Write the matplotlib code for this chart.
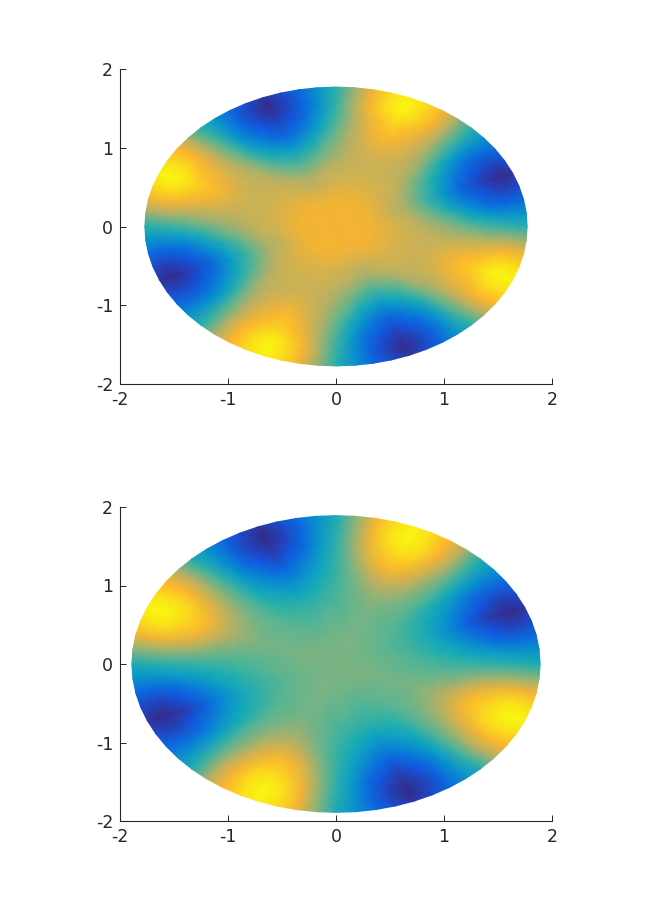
import numpy as np
import matplotlib
matplotlib.use("Agg")
import matplotlib.pyplot as plt
from matplotlib.colors import LinearSegmentedColormap

# colours, low to high
cor_pos = [0.0, 0.05, 0.12, 0.2, 0.33, 0.42, 0.5, 0.62, 0.78, 1.0]
cor_val = ["#352a87", "#30359f", "#1155e0", "#0b70dc", "#0a9fc8", "#1eaeb0", "#5ab592", "#b7b065", "#fdb52e", "#f9f90e"]

# value over one quarter turn, it repeats 4 times around the disc
angulos = [0, 5.625, 11.25, 16.875, 22.5, 28.125, 33.75, 39.375,
           45, 50.625, 56.25, 61.875, 67.5, 73.125, 78.75, 84.375]
raios = [0.0, 0.2, 0.3, 0.4, 0.5, 0.6, 0.7, 0.8, 0.88, 0.94, 1.0]

raio_cima = 1.77
valores_cima = [
    [.77, .77, .77, .77, .77, .77, .77, .77, .77, .77, .77, .77, .77, .77, .77, .77],
    [.75, .75, .74, .74, .74, .74, .74, .75, .75, .75, .75, .75, .75, .75, .75, .75],
    [.69, .68, .67, .66, .66, .66, .67, .68, .69, .70, .70, .70, .70, .70, .70, .70],
    [.65, .64, .62, .60, .59, .60, .62, .64, .66, .67, .67, .67, .67, .67, .67, .66],
    [.60, .57, .53, .49, .47, .49, .52, .57, .62, .64, .65, .66, .67, .66, .65, .63],
    [.56, .50, .42, .36, .32, .36, .42, .49, .58, .63, .67, .70, .72, .70, .66, .61],
    [.51, .40, .30, .22, .18, .22, .30, .40, .53, .62, .70, .76, .80, .76, .68, .60],
    [.47, .33, .20, .13, .09, .13, .20, .32, .49, .62, .74, .82, .88, .82, .72, .59],
    [.45, .30, .17, .09, .04, .09, .17, .30, .47, .62, .78, .90, .97, .90, .76, .60],
    [.44, .30, .17, .08, .01, .08, .17, .30, .45, .61, .78, .91, 1.0, .91, .76, .59],
    [.43, .30, .18, .10, .05, .10, .18, .30, .43, .60, .78, .90, .98, .90, .75, .58],
]

raio_baixo = 1.89
valores_baixo = [
    [.55, .55, .55, .55, .55, .55, .55, .55, .55, .55, .55, .55, .55, .55, .55, .55],
    [.53, .53, .52, .52, .52, .52, .52, .53, .53, .53, .53, .54, .54, .54, .53, .53],
    [.51, .51, .50, .49, .49, .49, .50, .51, .51, .52, .52, .53, .53, .53, .52, .51],
    [.49, .48, .47, .46, .46, .46, .47, .48, .50, .51, .52, .53, .54, .53, .52, .50],
    [.47, .45, .42, .40, .38, .40, .42, .45, .49, .52, .55, .57, .58, .56, .53, .50],
    [.46, .41, .35, .30, .27, .30, .35, .41, .49, .54, .60, .64, .66, .63, .57, .51],
    [.45, .36, .27, .20, .16, .20, .27, .36, .48, .57, .67, .75, .80, .75, .65, .54],
    [.44, .32, .19, .12, .07, .12, .19, .32, .47, .60, .74, .86, .90, .85, .72, .57],
    [.43, .30, .17, .08, .03, .08, .17, .30, .46, .62, .78, .92, .98, .92, .76, .57],
    [.42, .29, .17, .08, .01, .08, .17, .29, .44, .61, .78, .92, 1.0, .92, .76, .57],
    [.41, .29, .18, .10, .05, .10, .18, .29, .42, .60, .78, .90, .97, .90, .75, .56],
]

ticks = [-2, -1, 0, 1, 2]
tick_labels = ["-2", "-1", "0", "1", "2"]

cmap = LinearSegmentedColormap.from_list("disco", list(zip(cor_pos, cor_val)))


def desenha(ax, raio, valores):
    v = np.tile(np.array(valores), (1, 4))
    v = np.hstack([v, v[:, :1]])
    passo = np.r_[angulos, [a + 90 for a in angulos], [a + 180 for a in angulos],
                  [a + 270 for a in angulos], 360]
    theta = np.radians(passo)
    T, R = np.meshgrid(theta, np.array(raios) * raio)
    ax.pcolormesh(R * np.cos(T), R * np.sin(T), v, cmap=cmap, vmin=0, vmax=1,
                  shading="gouraud", rasterized=True)
    ax.set_xlim(-2, 2)
    ax.set_ylim(-2, 2)
    ax.set_xticks(ticks)
    ax.set_xticklabels(tick_labels)
    ax.set_yticks(ticks)
    ax.set_yticklabels(tick_labels)
    ax.spines["top"].set_visible(False)
    ax.spines["right"].set_visible(False)
    ax.spines["left"].set_color("#262626")
    ax.spines["bottom"].set_color("#262626")
    ax.tick_params(direction="in", length=4, width=0.7, color="#262626",
                   labelcolor="#262626", labelsize=12.5, pad=5)


fig = plt.figure(figsize=(6.53, 9.24), dpi=100)
ax1 = fig.add_axes([120 / 653, 1 - 384 / 924, 432 / 653, 315 / 924])
ax2 = fig.add_axes([120 / 653, 1 - 821 / 924, 432 / 653, 314 / 924])
desenha(ax1, raio_cima, valores_cima)
desenha(ax2, raio_baixo, valores_baixo)
fig.savefig("out.png", dpi=100)
